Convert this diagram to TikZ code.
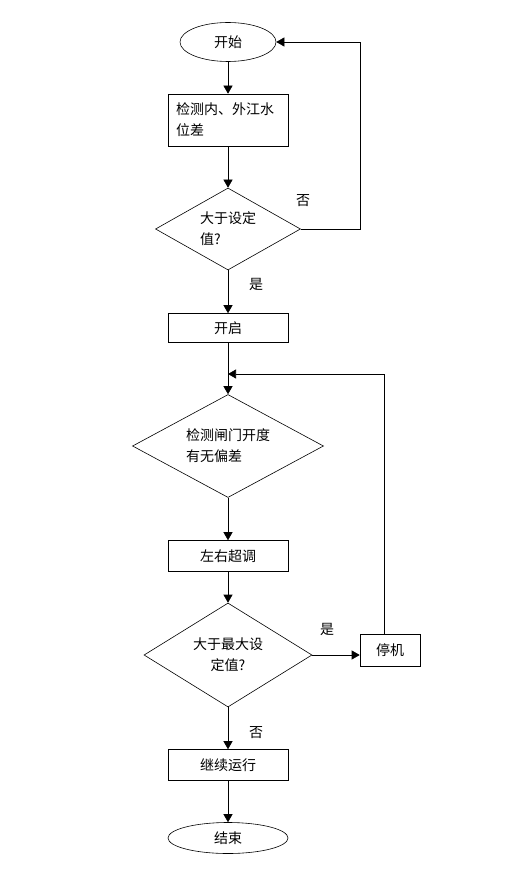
\documentclass[tikz,border=0pt]{standalone}
\usepackage{fontspec}
\newfontfamily\cjk{Noto Sans CJK SC}
\usetikzlibrary{shapes.geometric,arrows.meta}

\begin{document}
\begin{tikzpicture}[x=1pt,y=-1pt,line width=0.6pt,
	every node/.style={font=\cjk\fontsize{14}{21}\selectfont},
	box/.style={draw,rectangle,minimum width=120pt,inner sep=0pt},
	startend/.style={draw,ellipse,inner sep=0pt},
	decision/.style={draw,diamond,inner sep=0pt,shape aspect=1.8},
	arr/.style={-{Triangle[length=8pt,width=9pt]}}]
		\useasboundingbox (0,0) rectangle (528,874);
		\node[startend,minimum width=96pt,minimum height=39pt] (start) at (228,42) {开始};
		\node[box,minimum height=52pt,text width=104pt,align=left] (measure) at (228,120) {检测内、外江水\\位差};
		\node[decision,minimum width=145pt,minimum height=82pt,align=left] (dec1) at (228,229) {大于设定\\值?};
		\node[box,minimum height=29pt] (open) at (228,328) {开启};
		\node[decision,minimum width=191pt,minimum height=103pt,align=left] (dec2) at (228,446) {检测闸门开度\\有无偏差};
		\node[box,minimum height=31pt] (adjust) at (228,556) {左右超调};
		\node[decision,minimum width=168pt,minimum height=104pt,align=center] (dec3) at (228,655) {大于最大设\\定值?};
		\node[box,minimum width=60pt,minimum height=32pt] (stop) at (390,650) {停机};
		\node[box,minimum height=31pt] (run) at (228,765) {继续运行};
		\node[startend,minimum width=120pt,minimum height=31pt] (end) at (228,838) {结束};
		% labels
		\node (no1) at (303,201) {否};
		\node (yes1) at (256,284) {是};
		\node (yes2) at (327,629) {是};
		\node (no2) at (256,733) {否};
		% connectors
		\coordinate (join) at (228,374);
		\draw[arr] (start) -- (measure);
		\draw[arr] (measure) -- (dec1);
		\draw[arr] (dec1.east) -- ++(59,0) |- (start.east);
		\draw[arr] (dec1) -- (open);
		\draw[arr] (open) -- (dec2);
		\draw[arr] ([xshift=-6pt]stop.north) |- (join);
		\draw[arr] (dec2) -- (adjust);
		\draw[arr] (adjust) -- (dec3);
		\draw[arr] (dec3.east) -- (dec3.east -| stop.west);
		\draw[arr] (dec3) -- (run);
		\draw[arr] (run) -- (end);
	\end{tikzpicture}
\end{document}
